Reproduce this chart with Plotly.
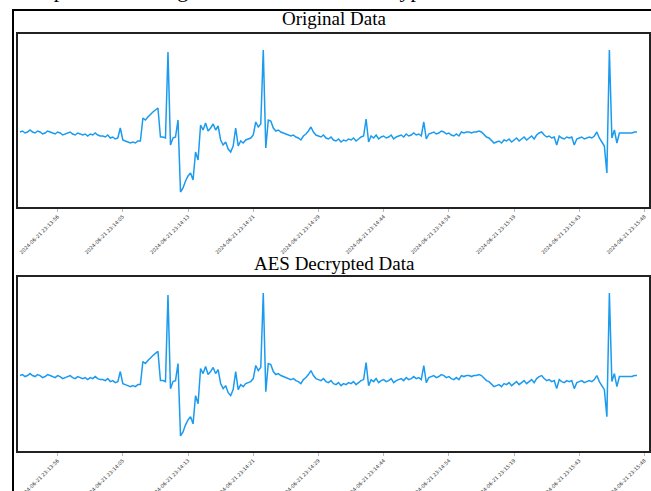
import plotly.graph_objects as go

W, H = 651, 491

tick_labels = [
    "2024-06-21 23:13:56", "2024-06-21 23:14:05", "2024-06-21 23:14:13",
    "2024-06-21 23:14:21", "2024-06-21 23:14:29", "2024-06-21 23:14:44",
    "2024-06-21 23:14:54", "2024-06-21 23:15:19", "2024-06-21 23:15:43",
    "2024-06-21 23:15:48",
]
tick_positions = [15, 41, 67, 93, 119, 145, 171, 197, 223, 249]

original = [
    1, 2, 0, 1, 3, 1, 0, 2, 1, -1, 0, 2, 1, 0, -1, 1, 0, -2, -1, 0, 1, -1, -2, 0, -1, -2, -1, -3, -1, -2, 0, -2, -3,
    -3, -4, -2, -5, -4, -6, -5,
    5,
    -7, -8, -9, -10, -9, -10, -8, -8,
    15, 13, 16, 19, 21, 23, 25,
    -4, -4, -5,
    81,
    -12, -5, -4,
    13,
    -59, -55, -48, -43, -40, -47,
    -19, -27,
    8, 3, 10, 2, 5, 9, 3, 7,
    -7, -12, -9, -16, -19, -13,
    5, -13,
    -8, -10, -7, -6, -5, -2,
    11, 6, 9,
    83,
    -15,
    13, 12,
    5, 2, 3, 1, 0, -1, -2, -3, -2, -4, -5,
    -7, -3, -1, 2, 6, 1, -2,
    -3, -4, -2, -5, -6, -4, -7, -8, -6, -9,
    -7, -8, -6, -7, -5, -8, -6, -4, -3,
    14, -9,
    -3, -5, -2, -6, -4, -3, -5, -4, -2, -6, -4,
    -3, -2, -4, -1, -3, -2, 0, -2, -1, -3,
    11, -6,
    -1, 0, 1, -1, 0, 2, 1, -1, 0,
    -2, -3, -1, -3,
    1, 0, 1, 1, 0, 1, 1, 2, 1,
    -2, -4, -5, -8, -10,
    -9, -8, -10, -7, -8, -6, -9, -7, -5, -8, -6, -4, -7,
    -5, -3, -6, -2, 0, 1,
    -2, -4, -3, -5, -4, -12, -3, -5, -6, -4, -5, -4, -12, -6,
    -5, -4, -6, -5, -4, -5, -3, 1,
    -5, -9, -13,
    -40, 83,
    -5, 3, -10, 0,
    0, 0, 0, 0, 0, 1, 1,
]
decrypted = list(original)
index = list(range(len(original)))

LINE = "#1a9bf0"

fig = go.Figure()
fig.add_trace(go.Scatter(x=index, y=original, mode="lines",
                         line=dict(color=LINE, width=1.5), xaxis="x", yaxis="y",
                         showlegend=False, hoverinfo="skip"))
fig.add_trace(go.Scatter(x=index, y=decrypted, mode="lines",
                         line=dict(color=LINE, width=1.5), xaxis="x2", yaxis="y2",
                         showlegend=False, hoverinfo="skip"))

def px_x(p):
    return p / W

def px_y(p):
    return 1 - p / H

xcommon = dict(range=[-0.8, 250.8], tickmode="array", tickvals=tick_positions,
               ticktext=tick_labels, tickangle=-45, automargin=False,
               tickfont=dict(family="DejaVu Sans", size=5, color="#333"),
               showline=True, linecolor="#222", linewidth=1.5, mirror=True,
               ticks="outside", ticklen=3, tickcolor="#bbb", tickwidth=0.6,
               showgrid=False, zeroline=False, fixedrange=True)
ycommon = dict(range=[-74, 99], showticklabels=False, ticks="", automargin=False,
               showline=True, linecolor="#222", linewidth=1.5, mirror=True,
               showgrid=False, zeroline=False, fixedrange=True)

fig.update_layout(
    width=W, height=H,
    margin=dict(l=0, r=0, t=0, b=0, autoexpand=False),
    paper_bgcolor="white", plot_bgcolor="white",
    xaxis=dict(domain=[px_x(18), px_x(649)], anchor="y", **xcommon),
    yaxis=dict(domain=[px_y(207), px_y(34)], anchor="x", **ycommon),
    xaxis2=dict(domain=[px_x(18), px_x(649)], anchor="y2", **xcommon),
    yaxis2=dict(domain=[px_y(451), px_y(277)], anchor="x2", **ycommon),
    shapes=[dict(type="rect", xref="paper", yref="paper",
                 x0=px_x(13), x1=px_x(660), y0=px_y(500), y1=px_y(10),
                 line=dict(color="black", width=2), fillcolor="rgba(0,0,0,0)")],
    annotations=[
        dict(text="Comparison of Original Data and AES Decrypted Data", xref="paper", yref="paper",
             x=px_x(9), y=px_y(-10), xanchor="left", yanchor="middle", showarrow=False,
             font=dict(family="Liberation Serif", size=22, color="black")),
        dict(text="Original Data", xref="paper", yref="paper",
             x=px_x(335), y=px_y(19), xanchor="center", yanchor="middle", showarrow=False,
             font=dict(family="Liberation Serif", size=19, color="black")),
        dict(text="AES Decrypted Data", xref="paper", yref="paper",
             x=px_x(335), y=px_y(263), xanchor="center", yanchor="middle", showarrow=False,
             font=dict(family="Liberation Serif", size=19, color="black")),
    ],
)

fig.write_html("out.html", config={"displayModeBar": False},
               post_script="document.body.style.margin='0';document.body.style.overflow='hidden';")
